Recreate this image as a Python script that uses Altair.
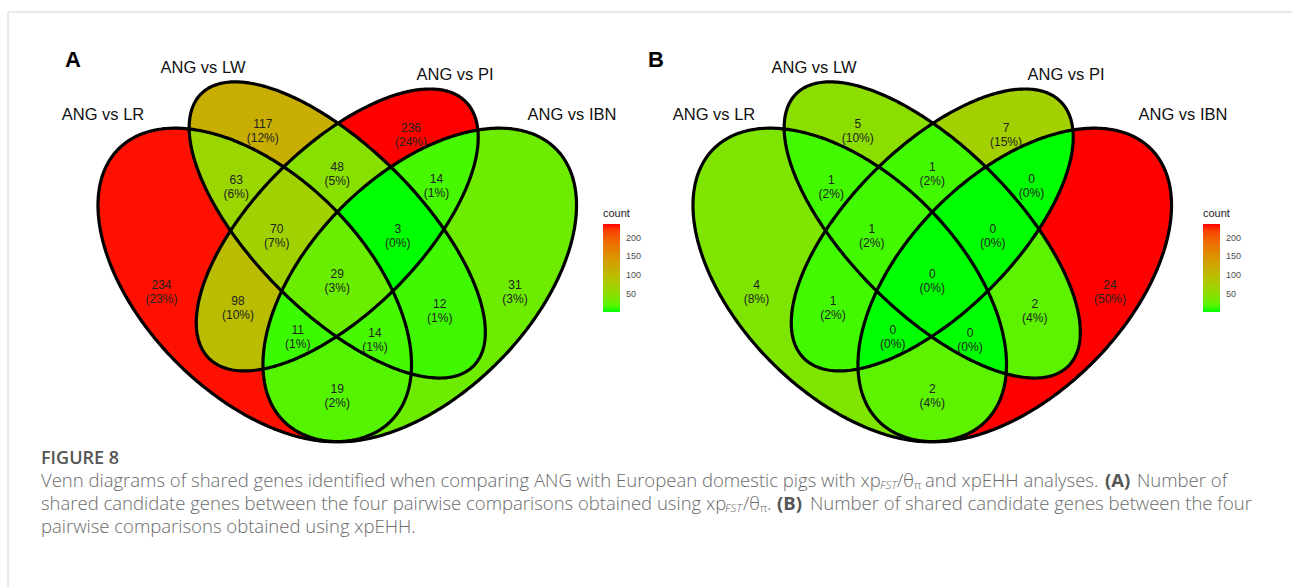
import numpy as np
import pandas as pd
import altair as alt

W, H = 1292, 587

# ---------------- data ----------------
SET_NAMES = ["ANG vs LR", "ANG vs LW", "ANG vs PI", "ANG vs IBN"]
# membership key: LR, LW, PI, IBN
REGION_KEYS = ["1000", "0100", "0010", "0001", "1100", "0110", "0011", "1001",
               "1010", "0101", "1110", "0111", "1011", "1101", "1111"]
COUNTS_A = [234, 117, 236, 31, 63, 48, 14, 19, 98, 12, 70, 3, 11, 14, 29]
COUNTS_B = [4, 5, 7, 24, 1, 1, 0, 2, 1, 2, 1, 0, 0, 0, 0]
PANEL_TAGS = ["A", "B"]
LEGEND_TICKS = [50, 100, 150, 200]
LEGEND_TITLE = "count"
CAPTION_HEAD = "FIGURE 8"
CAPTION_LINE3 = "pairwise comparisons obtained using xpEHH."

# ---------------- layout / geometry ----------------
# four-ellipse Venn shapes (cx, cy, a, b, rotation deg) in unit coords
ELLIPSES = [(0.35, 0.47, 0.35, 0.20, 135), (0.50, 0.57, 0.35, 0.15, 135),
            (0.50, 0.57, 0.33, 0.15, 45), (0.65, 0.47, 0.35, 0.20, 45)]
S = 550.0
ORIGINS = {"A": (62.25, 543.45), "B": (657.25, 543.45)}
SET_LABEL_POS = {"A": [(103, 114.5), (203, 67.5), (455, 74.5), (572, 114.5)],
                 "B": [(714, 114.5), (814, 67.5), (1066, 74.5), (1183, 114.5)]}
TAG_POS = {"A": (73, 60), "B": (656, 60)}
LEGEND_X = {"A": 603, "B": 1203}
DX = 1.5


def roots(e, xu):
    cx, cy, a, b, deg = e
    th = np.radians(deg)
    c, s = np.cos(th), np.sin(th)
    d = xu - cx
    A = s * s / (a * a) + c * c / (b * b)
    B = 2 * d * (c * s / (a * a) - s * c / (b * b))
    C = d * d * (c * c / (a * a) + s * s / (b * b)) - 1
    disc = B * B - 4 * A * C
    if disc <= 0:
        return []
    r = np.sqrt(disc)
    return [cy + (-B - r) / (2 * A), cy + (-B + r) / (2 * A)]


def inside(e, xu, yu):
    cx, cy, a, b, deg = e
    th = np.radians(deg)
    c, s = np.cos(th), np.sin(th)
    dx, dy = xu - cx, yu - cy
    u = dx * c + dy * s
    w = -dx * s + dy * c
    return (u / a) ** 2 + (w / b) ** 2 <= 1


def key_at(xu, yu):
    return "".join("1" if inside(e, xu, yu) else "0" for e in ELLIPSES)


def region_cells(panel, counts):
    ox, oy = ORIGINS[panel]
    cmap = dict(zip(REGION_KEYS, counts))
    du = DX / S
    rows = []
    for xu in np.arange(0.06, 0.94, du):
        br = []
        for e in ELLIPSES:
            br += roots(e, xu)
        br = sorted(br)
        for lo, hi in zip(br[:-1], br[1:]):
            if hi - lo < 1e-9:
                continue
            key = key_at(xu, (lo + hi) / 2)
            if key == "0000":
                continue
            xp = ox + xu * S
            rows.append(dict(x=xp - DX / 2, x2=xp + DX / 2 + 0.5,
                             y=oy - hi * S, y2=oy - lo * S,
                             key=key, count=cmap[key], panel=panel))
    return pd.DataFrame(rows)


def region_labels(panel, cells, counts):
    """label at a point on surface: middle of the widest run on the envelope's mid line"""
    ox, oy = ORIGINS[panel]
    total = sum(counts)
    cmap = dict(zip(REGION_KEYS, counts))
    out = []
    scan = np.arange(0.06, 0.94, 0.5 / S)
    for key, g in cells.groupby("key"):
        ymid = (g.y.min() + g.y2.max()) / 2
        yu = (oy - ymid) / S
        flags = [key_at(xu, yu) == key for xu in scan]
        best, start = (0, None, None), None
        for i, f in enumerate(flags + [False]):
            if f and start is None:
                start = i
            elif not f and start is not None:
                if i - start > best[0]:
                    best = (i - start, start, i - 1)
                start = None
        xu = (scan[best[1]] + scan[best[2]]) / 2
        c = cmap[key]
        out.append(dict(x=ox + xu * S, y=ymid, label=f"{c}\n({round(100 * c / total)}%)"))
    return pd.DataFrame(out)


def outlines(panel):
    ox, oy = ORIGINS[panel]
    t = np.linspace(0, 2 * np.pi, 361)
    rows = []
    for k, (cx, cy, a, b, deg) in enumerate(ELLIPSES):
        th = np.radians(deg)
        u, w = a * np.cos(t), b * np.sin(t)
        xx = cx + u * np.cos(th) - w * np.sin(th)
        yy = cy + u * np.sin(th) + w * np.cos(th)
        for i in range(len(t)):
            rows.append(dict(x=ox + xx[i] * S, y=oy - yy[i] * S, i=i, eid=f"{panel}{k}"))
    return pd.DataFrame(rows)


xs = alt.Scale(domain=[0, W], nice=False, zero=False)
ys = alt.Scale(domain=[0, H], nice=False, zero=False, reverse=True)
X = lambda f: alt.X(f, scale=xs, axis=None)
Y = lambda f: alt.Y(f, scale=ys, axis=None)

cellsA = region_cells("A", COUNTS_A)
cellsB = region_cells("B", COUNTS_B)

minA, maxA = min(COUNTS_A), max(COUNTS_A)
minB, maxB = min(COUNTS_B), max(COUNTS_B)


def legend(panel, values=None, label_expr=None):
    kw = dict(title=LEGEND_TITLE, orient="none", legendX=LEGEND_X[panel], legendY=208,
              direction="vertical", gradientLength=88, gradientThickness=17,
              gradientStrokeWidth=0, titleFont="Liberation Sans", titleFontSize=11,
              titleFontWeight="normal", titleColor="#222222", titlePadding=5,
              labelFont="Liberation Sans", labelFontSize=9, labelColor="#4d4d4d",
              labelOffset=6, labelOverlap=False, values=values)
    if label_expr:
        kw["labelExpr"] = label_expr
    return alt.Legend(**kw)


fillA = alt.Chart(cellsA).mark_rect(strokeWidth=0).encode(
    x=X("x:Q"), x2="x2:Q", y=Y("y:Q"), y2="y2:Q",
    color=alt.Color("count:Q", scale=alt.Scale(domain=[minA, maxA], range=["#00ff00", "#ff0000"],
                                               interpolate="lab"),
                    legend=legend("A", LEGEND_TICKS)))

valsB = [minB + (t - minA) / (maxA - minA) * (maxB - minB) for t in LEGEND_TICKS]
exprB = f"format(round({minA} + (datum.value - {minB}) * {(maxA - minA) / (maxB - minB)}), 'd')"
fillB = alt.Chart(cellsB).mark_rect(strokeWidth=0).encode(
    x=X("x:Q"), x2="x2:Q", y=Y("y:Q"), y2="y2:Q",
    color=alt.Color("count:Q", scale=alt.Scale(domain=[minB, maxB], range=["#00ff00", "#ff0000"],
                                               interpolate="lab"),
                    legend=legend("B", valsB, exprB)))

lines = alt.Chart(pd.concat([outlines("A"), outlines("B")])).mark_line(
    color="black", strokeWidth=3.2, strokeJoin="round").encode(
    x=X("x:Q"), y=Y("y:Q"), detail="eid:N", order="i:Q")

labels_df = pd.concat([region_labels("A", cellsA, COUNTS_A), region_labels("B", cellsB, COUNTS_B)])
labels = alt.Chart(labels_df).mark_text(font="Liberation Sans", fontSize=12, lineBreak="\n",
                                        lineHeight=14, color="#222222", baseline="middle").encode(
    x=X("x:Q"), y=Y("y:Q"), text="label:N")

set_rows = []
for p in PANEL_TAGS:
    for name, (px, py) in zip(SET_NAMES, SET_LABEL_POS[p]):
        set_rows.append(dict(x=px, y=py, text=name))
set_titles = alt.Chart(pd.DataFrame(set_rows)).mark_text(
    font="Liberation Sans", fontSize=16.5, color="#111111", baseline="middle").encode(
    x=X("x:Q"), y=Y("y:Q"), text="text:N")

tags = alt.Chart(pd.DataFrame([dict(x=TAG_POS[p][0], y=TAG_POS[p][1], text=p) for p in PANEL_TAGS])).mark_text(
    font="Liberation Sans", fontSize=22, fontWeight="bold", color="#000000", baseline="middle").encode(
    x=X("x:Q"), y=Y("y:Q"), text="text:N")

# frame lines
frame = alt.Chart(pd.DataFrame([dict(x=8, x2=W, y=12, y2=12), dict(x=8, x2=8, y=12, y2=H)])).mark_rule(
    color="#d4d4d4", strokeWidth=1).encode(x=X("x:Q"), x2="x2:Q", y=Y("y:Q"), y2="y2:Q")

# caption
CAP_FONT = "Open Sans"
CAP_COLOR = "#6a6a6a"
cap_normal = pd.DataFrame([
    dict(x=41, y=481, text="Venn diagrams of shared genes identified when comparing ANG with European domestic pigs with xp"),
    dict(x=897, y=481, text="/θ"),
    dict(x=925, y=481, text="and xpEHH analyses."),
    dict(x=1137, y=481, text="Number of"),
    dict(x=41, y=504, text="shared candidate genes between the four pairwise comparisons obtained using xp"),
    dict(x=743, y=504, text="/θ"),
    dict(x=767, y=504, text="."),
    dict(x=810, y=504, text="Number of shared candidate genes between the four"),
    dict(x=41, y=527, text=CAPTION_LINE3),
])
cap_bold = pd.DataFrame([dict(x=1105, y=481, text="(A)"), dict(x=777, y=504, text="(B)")])
cap_sub = pd.DataFrame([dict(x=880, y=486, text="FST"), dict(x=725, y=509, text="FST")])
cap_pi = pd.DataFrame([dict(x=914, y=486, text="π"), dict(x=760, y=509, text="π")])


def captext(df, **kw):
    base = dict(font=CAP_FONT, fontSize=18.5, fontWeight=300, color=CAP_COLOR, align="left",
                baseline="middle")
    base.update(kw)
    return alt.Chart(df).mark_text(**base).encode(x=X("x:Q"), y=Y("y:Q"), text="text:N")


caption = [
    captext(cap_normal),
    captext(cap_bold, fontWeight="bold", color="#555555"),
    captext(cap_sub, fontSize=11.5, fontStyle="italic"),
    captext(cap_pi, fontSize=11.5),
    captext(pd.DataFrame([dict(x=41, y=459, text=CAPTION_HEAD)]), fontWeight=600, fontSize=18,
            color="#555555"),
]

chart = alt.layer(fillA, fillB, lines, labels, set_titles, tags, frame, *caption).resolve_scale(
    color="independent").properties(
    width=W, height=H, padding=0, autosize=alt.AutoSizeParams(type="none")).configure_view(stroke=None)

chart.save("out.html", embed_options={"renderer": "svg", "actions": False})
